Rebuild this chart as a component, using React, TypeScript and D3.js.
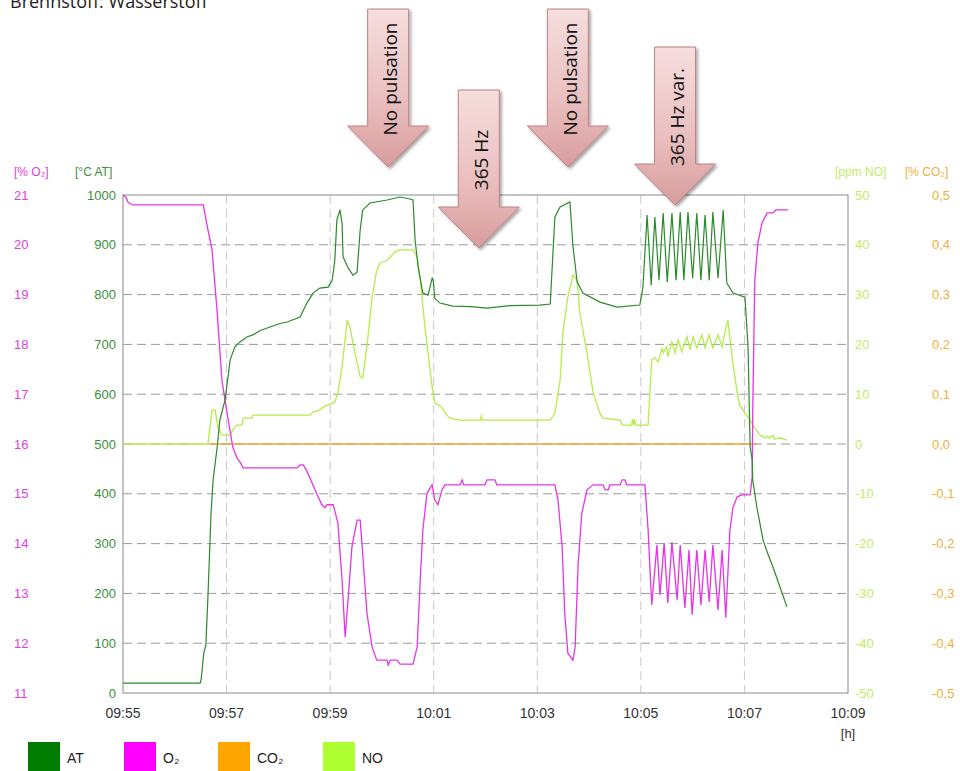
import React from 'react';
import * as d3 from 'd3';

// time ticks and axis ticks
const timeLabels = ['09:55', '09:57', '09:59', '10:01', '10:03', '10:05', '10:07', '10:09'];
const atTicks = [0, 100, 200, 300, 400, 500, 600, 700, 800, 900, 1000];
const o2Ticks = [11, 12, 13, 14, 15, 16, 17, 18, 19, 20, 21];
const noTicks = [-50, -40, -30, -20, -10, 0, 10, 20, 30, 40, 50];
const co2Ticks = [-0.5, -0.4, -0.3, -0.2, -0.1, 0, 0.1, 0.2, 0.3, 0.4, 0.5];

// series: [minutes after 09:55, value]
const atData: [number, number][] = [
  [0, 20], [1.49, 20], [1.51, 28], [1.56, 80], [1.6, 96], [1.64, 193], [1.7, 361], [1.74, 428],
  [1.82, 495], [1.87, 548], [1.97, 588], [2.07, 669], [2.16, 695], [2.26, 705], [2.39, 715],
  [2.51, 719], [2.65, 728], [2.84, 735], [3.03, 742], [3.17, 745], [3.42, 755], [3.55, 783],
  [3.67, 803], [3.8, 813], [3.96, 815], [4.04, 829], [4.09, 869], [4.13, 950], [4.19, 970],
  [4.23, 943], [4.25, 876], [4.35, 853], [4.44, 839], [4.52, 845], [4.58, 930], [4.63, 970],
  [4.77, 984], [5.1, 990], [5.35, 996], [5.54, 992], [5.6, 990], [5.64, 910], [5.7, 855],
  [5.79, 803], [5.89, 799], [5.97, 833], [5.99, 829], [6.02, 793], [6.12, 783], [6.37, 777],
  [6.7, 776], [7.03, 773], [7.47, 778], [8.05, 779], [8.25, 781], [8.34, 956], [8.44, 976],
  [8.63, 986], [8.69, 896], [8.77, 825], [8.88, 803], [9.21, 785], [9.54, 775], [9.98, 779],
  [10.04, 815], [10.12, 960], [10.2, 819], [10.27, 956], [10.35, 829], [10.43, 964], [10.51, 825],
  [10.6, 964], [10.68, 829], [10.76, 966], [10.83, 829], [10.91, 966], [11.0, 833], [11.08, 964],
  [11.16, 829], [11.24, 960], [11.32, 829], [11.39, 966], [11.49, 833], [11.59, 970], [11.66, 823],
  [11.78, 803], [12.01, 795], [12.07, 695], [12.11, 494], [12.15, 468], [12.16, 428], [12.24, 373],
  [12.36, 307], [12.45, 280], [12.55, 253], [12.68, 215], [12.82, 173],
];

const o2Data: [number, number][] = [
  [0, 21.0], [0.06, 20.95], [0.1, 20.85], [0.19, 20.8], [1.55, 20.8], [1.64, 20.3], [1.72, 19.9],
  [1.82, 18.63], [1.91, 17.28], [2.01, 16.62], [2.12, 15.94], [2.2, 15.72], [2.26, 15.64],
  [2.32, 15.52], [3.36, 15.52], [3.42, 15.58], [3.48, 15.58], [3.55, 15.46], [3.65, 15.22],
  [3.75, 14.98], [3.84, 14.78], [3.9, 14.72], [3.94, 14.78], [4.06, 14.78], [4.15, 14.41],
  [4.23, 13.27], [4.29, 12.12], [4.35, 12.93], [4.42, 13.93], [4.52, 14.47], [4.58, 14.47],
  [4.62, 13.93], [4.71, 12.61], [4.81, 11.92], [4.9, 11.66], [5.1, 11.66], [5.12, 11.56],
  [5.16, 11.66], [5.29, 11.66], [5.35, 11.58], [5.6, 11.58], [5.68, 11.92], [5.74, 13.27],
  [5.79, 14.27], [5.87, 15.01], [5.97, 15.18], [6.02, 14.88], [6.08, 14.78], [6.16, 15.08],
  [6.22, 15.18], [6.51, 15.18], [6.55, 15.28], [6.58, 15.18], [6.99, 15.18], [7.03, 15.28],
  [7.18, 15.28], [7.22, 15.18], [8.34, 15.18], [8.4, 14.88], [8.48, 13.93], [8.53, 12.61],
  [8.59, 11.8], [8.69, 11.66], [8.73, 11.92], [8.79, 13.61], [8.86, 14.61], [8.96, 15.08],
  [9.08, 15.18], [9.27, 15.18], [9.31, 15.08], [9.37, 15.08], [9.4, 15.18], [9.6, 15.18],
  [9.64, 15.28], [9.69, 15.28], [9.73, 15.18], [10.08, 15.18], [10.14, 14.27], [10.21, 12.77],
  [10.31, 13.97], [10.37, 12.97], [10.45, 14.01], [10.52, 12.81], [10.6, 14.03], [10.7, 12.87],
  [10.76, 13.97], [10.85, 12.71], [10.93, 13.87], [10.99, 12.57], [11.08, 13.87], [11.16, 12.77],
  [11.24, 13.87], [11.32, 12.83], [11.39, 13.97], [11.49, 12.67], [11.57, 13.87], [11.64, 12.51],
  [11.72, 14.27], [11.78, 14.73], [11.86, 14.94], [11.95, 14.98], [12.11, 14.98], [12.15, 15.34],
  [12.16, 16.62], [12.2, 19.29], [12.26, 20.04], [12.34, 20.44], [12.44, 20.64], [12.55, 20.64],
  [12.61, 20.7], [12.84, 20.7],
];

const noData: [number, number][] = [
  [0, 0], [1.64, 0], [1.72, 6.8], [1.78, 6.8], [1.83, 3.4], [1.91, 1.8], [2.07, 1.8], [2.12, 2.8],
  [2.2, 3.8], [2.3, 3.8], [2.32, 5.2], [2.49, 5.2], [2.51, 5.8], [3.61, 5.8], [3.67, 6.4],
  [3.8, 6.8], [3.86, 7.4], [4.0, 8.0], [4.09, 8.4], [4.15, 10.2], [4.23, 15.5], [4.33, 24.9],
  [4.38, 23.5], [4.48, 18.3], [4.58, 13.5], [4.63, 13.3], [4.71, 19.5], [4.81, 29.5], [4.9, 34.9],
  [4.96, 36.3], [5.1, 36.9], [5.16, 37.5], [5.25, 38.6], [5.35, 39.0], [5.6, 39.0], [5.68, 37.6],
  [5.74, 32.9], [5.83, 23.5], [5.97, 11.4], [6.02, 8.2], [6.16, 7.4], [6.22, 6.2], [6.31, 5.2],
  [6.51, 4.8], [6.9, 4.8], [6.92, 5.6], [6.94, 4.8], [8.25, 4.8], [8.34, 6.2], [8.44, 12.8],
  [8.5, 22.9], [8.59, 29.5], [8.69, 33.9], [8.77, 32.9], [8.82, 26.3], [8.96, 18.3], [9.08, 10.2],
  [9.21, 6.2], [9.27, 5.2], [9.6, 4.8], [9.64, 3.8], [9.82, 3.8], [9.84, 5.0], [9.86, 3.8],
  [9.88, 5.0], [9.9, 3.8], [10.14, 3.8], [10.21, 16.9], [10.27, 17.3], [10.33, 16.5], [10.41, 19.3],
  [10.43, 18.3], [10.5, 19.5], [10.52, 17.5], [10.6, 20.5], [10.66, 18.3], [10.72, 20.9],
  [10.79, 18.5], [10.89, 21.5], [10.95, 18.9], [11.01, 21.5], [11.08, 19.3], [11.18, 21.9],
  [11.24, 19.3], [11.32, 21.9], [11.39, 19.3], [11.49, 21.9], [11.57, 19.5], [11.62, 22.3],
  [11.68, 24.9], [11.78, 15.9], [11.86, 10.4], [11.91, 7.8], [12.01, 6.2], [12.11, 4.8],
  [12.2, 3.2], [12.3, 1.8], [12.4, 1.2], [12.44, 1.6], [12.48, 1.2], [12.55, 1.8], [12.58, 1.0],
  [12.7, 1.2], [12.82, 0.8],
];

const co2Data: [number, number][] = [[1.68, 0], [6.0, 0], [10.0, 0], [12.24, 0]];

const legendLabels = ['AT', 'O₂', 'CO₂', 'NO'];
const legendColors = ['#007d00', '#ff00ff', '#ffa500', '#adff2f'];

const noteLabels = ['No pulsation', '365 Hz', 'No pulsation', '365 Hz var.'];
const noteMinutes = [5.12, 6.87, 8.59, 10.66];

const W = 960;
const H = 771;
const left = 123;
const right = 848;
const top = 195;
const bottom = 693;

const parseTime = d3.timeParse('%H:%M');
const t0 = parseTime(timeLabels[0])!;
const toDate = (m: number) => new Date(t0.getTime() + m * 60000);

const x = d3.scaleTime().domain([t0, parseTime(timeLabels[timeLabels.length - 1])!]).range([left, right]);
const yAT = d3.scaleLinear().domain([0, 1000]).range([bottom, top]);
const yO2 = d3.scaleLinear().domain([11, 21]).range([bottom, top]);
const yNO = d3.scaleLinear().domain([-50, 50]).range([bottom, top]);
const yCO2 = d3.scaleLinear().domain([-0.5, 0.5]).range([bottom, top]);

const deFmt = d3.formatLocale({ decimal: ',', thousands: '.', grouping: [3], currency: ['', ''], minus: '-' }).format('.1f');

const mkLine = (y: d3.ScaleLinear<number, number>) =>
  d3.line<[number, number]>().x(d => x(toDate(d[0]))).y(d => y(d[1]));

const axisFont = '"Liberation Sans", Arial, sans-serif';
const noteFont = '"Open Sans", "Noto Sans", sans-serif';

function arrowPath(cx: number, y0: number) {
  const sw = 20.5, hw = 40.5, shaft = 117, head = 41;
  const p = d3.path();
  p.moveTo(cx - sw, y0);
  p.lineTo(cx + sw, y0);
  p.lineTo(cx + sw, y0 + shaft);
  p.lineTo(cx + hw, y0 + shaft);
  p.lineTo(cx, y0 + shaft + head);
  p.lineTo(cx - hw, y0 + shaft);
  p.lineTo(cx - sw, y0 + shaft);
  p.closePath();
  return p.toString();
}

const arrowTops = [9, 90, 9, 47];

export default function App() {
  const xTicks = timeLabels.map(s => parseTime(s)!);
  return (
    <svg width={W} height={H} style={{ position: 'absolute', left: 0, top: 0, background: '#fff' }}>
      <defs>
        <linearGradient id="arrowFill" x1="0" y1="0" x2="0" y2="1">
          <stop offset="0" stopColor="#f6dede" />
          <stop offset="0.6" stopColor="#e9bdbd" />
          <stop offset="1" stopColor="#d89c9c" />
        </linearGradient>
        <filter id="shadow" x="-20%" y="-20%" width="140%" height="140%">
          <feDropShadow dx="2" dy="2" stdDeviation="1.5" floodColor="#000" floodOpacity="0.35" />
        </filter>
      </defs>

      <text x={10} y={8} fontFamily={noteFont} fontSize={18} fill="#222">Brennstoff: Wasserstoff</text>

      {/* grid */}
      {atTicks.filter(v => v > 0 && v < 1000).map(v => (
        <line key={'h' + v} x1={left} x2={right} y1={yAT(v)} y2={yAT(v)} stroke="#9a9a9a" strokeDasharray="9,5" strokeWidth={1} />
      ))}
      {xTicks.slice(1, -1).map((d, i) => (
        <line key={'v' + i} x1={x(d)} x2={x(d)} y1={top} y2={bottom} stroke="#c8c8c8" strokeDasharray="9,5" strokeWidth={1} />
      ))}
      <rect x={left} y={top} width={right - left} height={bottom - top} fill="none" stroke="#8a8a8a" strokeWidth={1} />

      {/* series */}
      <path d={mkLine(yNO)(noData) ?? ''} fill="none" stroke="#b4ec4a" strokeWidth={1.3} />
      <path d={mkLine(yCO2)(co2Data) ?? ''} fill="none" stroke="#f5a43a" strokeWidth={1.3} />
      <path d={mkLine(yO2)(o2Data) ?? ''} fill="none" stroke="#e436e4" strokeWidth={1.3} />
      <path d={mkLine(yAT)(atData) ?? ''} fill="none" stroke="#2b8a2b" strokeWidth={1.2} />

      {/* axes labels */}
      <g fontFamily={axisFont} fontSize={13}>
        <text x={14} y={172} fontSize={12} fill="#e040e0" dominantBaseline="central">[% O₂]</text>
        <text x={75} y={172} fontSize={12} fill="#3a8f3a" dominantBaseline="central">[°C AT]</text>
        <text x={835} y={172} fontSize={12} fill="#c2ec66" dominantBaseline="central">[ppm NO]</text>
        <text x={905} y={172} fontSize={12} fill="#f0b040" dominantBaseline="central">[% CO₂]</text>
        {o2Ticks.map(v => (
          <text key={'o' + v} x={14} y={yO2(v)} fill="#e040e0" dominantBaseline="central">{v}</text>
        ))}
        {atTicks.map(v => (
          <text key={'a' + v} x={116} y={yAT(v)} fill="#3a8f3a" textAnchor="end" dominantBaseline="central">{v}</text>
        ))}
        {noTicks.map(v => (
          <text key={'n' + v} x={855} y={yNO(v)} fill="#c2ec66" dominantBaseline="central">{String(v)}</text>
        ))}
        {co2Ticks.map(v => (
          <text key={'c' + v} x={932} y={yCO2(v)} fill="#f0b040" dominantBaseline="central">{deFmt(v)}</text>
        ))}
        {xTicks.map((d, i) => (
          <text key={'x' + i} x={x(d)} y={718} fontSize={14} fill="#333" textAnchor="middle">{d3.timeFormat('%H:%M')(d)}</text>
        ))}
        <text x={right} y={738} fontSize={13} fill="#333" textAnchor="middle">[h]</text>
      </g>

      {/* legend */}
      <g fontFamily={axisFont} fontSize={14}>
        {legendLabels.map((lab, i) => {
          const lx = [28, 124, 218, 323][i];
          return (
            <g key={lab}>
              <rect x={lx} y={742} width={32} height={32} fill={legendColors[i]} />
              <text x={lx + 39} y={758} dominantBaseline="central" fill="#222">{lab}</text>
            </g>
          );
        })}
      </g>

      {/* annotation arrows */}
      {noteLabels.map((lab, i) => {
        const cx = x(toDate(noteMinutes[i]));
        const y0 = arrowTops[i];
        return (
          <g key={'arr' + i}>
            <path d={arrowPath(cx, y0)} fill="url(#arrowFill)" stroke="#c08080" strokeWidth={1} filter="url(#shadow)" />
            <text transform={`translate(${cx + 2},${y0 + 70}) rotate(-90)`} textAnchor="middle" dominantBaseline="central"
              fontFamily={noteFont} fontSize={19} fill="#111">{lab}</text>
          </g>
        );
      })}
    </svg>
  );
}
